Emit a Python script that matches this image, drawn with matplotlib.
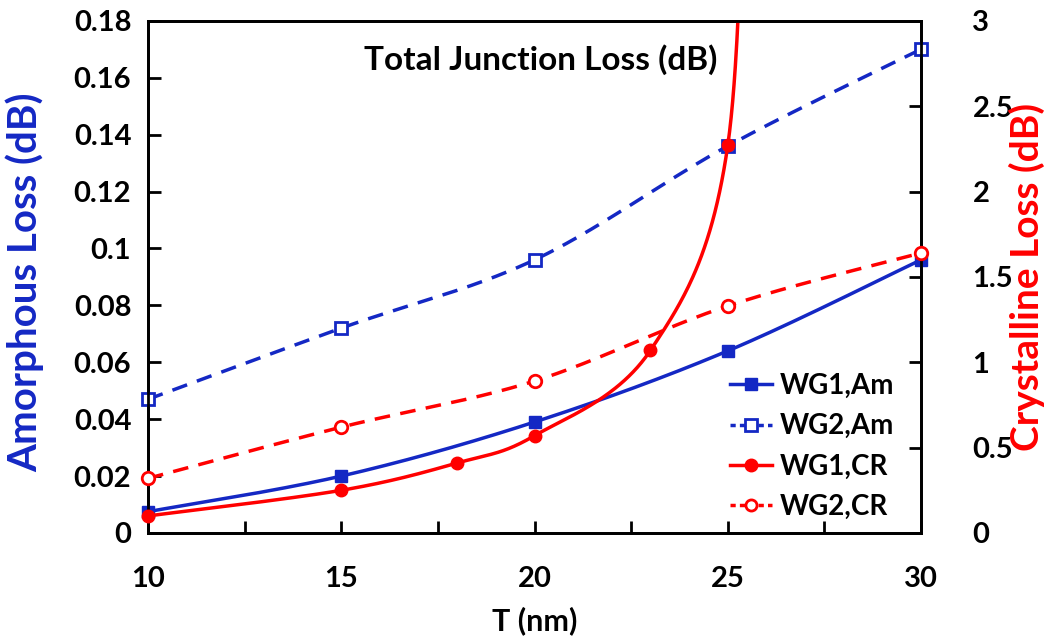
import numpy as np
import matplotlib
matplotlib.use("Agg")
import matplotlib.pyplot as plt

plt.rcParams['font.family'] = ['Lato', 'DejaVu Sans']
plt.rcParams['font.weight'] = 'bold'

# data
t_am = [10, 15, 20, 25, 30]
wg1_am = [0.0075, 0.020, 0.039, 0.064, 0.096]
wg2_am = [0.047, 0.072, 0.096, 0.136, 0.170]

t_cr1 = [10, 15, 18, 20, 23, 25, 25.5]
wg1_cr = [0.10, 0.25, 0.41, 0.57, 1.07, 2.27, 5.0]   # last point runs off the top
t_cr2 = [10, 15, 20, 25, 30]
wg2_cr = [0.32, 0.62, 0.89, 1.33, 1.64]

blue = '#1428c4'
red = '#ff0000'


def smooth(x, y, xs_scale, ys_scale, n=80):
    # excel-like smoothed line: bezier with catmull-rom control points,
    # worked out in (roughly) pixel units so the shape matches
    x = np.asarray(x, float) * xs_scale
    y = np.asarray(y, float) * ys_scale
    P = np.column_stack([x, y])
    P = np.vstack([P[0], P, P[-1]])
    s = np.linspace(0, 1, n)[:, None]
    out = []
    for i in range(1, len(P) - 2):
        b0 = P[i]
        b3 = P[i + 1]
        b1 = b0 + (P[i + 1] - P[i - 1]) / 6
        b2 = b3 - (P[i + 2] - P[i]) / 6
        out.append((1 - s) ** 3 * b0 + 3 * (1 - s) ** 2 * s * b1 + 3 * (1 - s) * s ** 2 * b2 + s ** 3 * b3)
    out = np.vstack(out)
    return out[:, 0] / xs_scale, out[:, 1] / ys_scale


fig = plt.figure(figsize=(10.46, 6.41), dpi=100)
ax = fig.add_axes([0.1415, 0.1685, 0.739, 0.799])
ax2 = ax.twinx()

xpx = 773 / 20.0
ypx_l = 512 / 0.18
ypx_r = 512 / 3.0

# amorphous on left axis
sx, sy = smooth(t_am, wg1_am, xpx, ypx_l)
ax.plot(sx, sy, color=blue, lw=2.5)
sx, sy = smooth(t_am, wg2_am, xpx, ypx_l)
ax.plot(sx, sy, color=blue, lw=2.5, ls=(0, (4.5, 3)))
ax.plot(t_am, wg1_am, 's', color=blue, ms=9, clip_on=False, zorder=5)
ax.plot(t_am, wg2_am, 's', color=blue, mfc='white', mew=2, ms=9, clip_on=False, zorder=5)

# crystalline on right axis
sx, sy = smooth(t_cr1, wg1_cr, xpx, ypx_r)
ax2.plot(sx, sy, color=red, lw=2.5)
sx, sy = smooth(t_cr2, wg2_cr, xpx, ypx_r)
ax2.plot(sx, sy, color=red, lw=2.5, ls=(0, (4.5, 3)))
ax2.plot(t_cr1[:-1], wg1_cr[:-1], 'o', color=red, ms=9, clip_on=False, zorder=5)
ax2.plot(t_cr2, wg2_cr, 'o', color=red, mfc='white', mew=2, ms=9, clip_on=False, zorder=5)

ax.set_xlim(10, 30)
ax.set_ylim(0, 0.18)
ax2.set_ylim(0, 3)
ax.set_xticks(np.arange(10, 31, 5))
ax.set_xticks(np.arange(10, 31, 2.5), minor=True)
ax.set_yticks(np.arange(0, 0.181, 0.02))
ax.set_yticklabels(['0', '0.02', '0.04', '0.06', '0.08', '0.1', '0.12', '0.14', '0.16', '0.18'])
ax2.set_yticks(np.arange(0, 3.01, 0.5))
ax2.set_yticklabels(['0', '0.5', '1', '1.5', '2', '2.5', '3'])

for a in (ax, ax2):
    for sp in a.spines.values():
        sp.set_linewidth(2)
ax.tick_params(axis='both', which='both', direction='in', width=2, length=9, labelsize=21)
ax.tick_params(axis='y', pad=12)
ax.tick_params(axis='x', which='both', pad=24)
ax2.tick_params(axis='y', which='both', direction='in', width=2, length=9, labelsize=21)
ax2.yaxis.set_tick_params(pad=37)
for lab in ax.get_xticklabels() + ax.get_yticklabels() + ax2.get_yticklabels():
    lab.set_fontweight('bold')

ax.set_xlabel('T (nm)', fontsize=22, fontweight='bold', labelpad=10)
ax.set_ylabel('Amorphous Loss (dB)', fontsize=29, fontweight='bold', color=blue)
ax.yaxis.set_label_coords(-0.134, 0.49)
ax2.set_ylabel('Crystalline Loss (dB)', fontsize=28, fontweight='bold', color=red)
ax2.yaxis.set_label_coords(1.114, 0.5)
ax.text(0.508, 0.924, 'Total Junction Loss (dB)', transform=ax.transAxes, ha='center', va='center',
        fontsize=24, fontweight='bold')

handles = [
    plt.Line2D([], [], color=blue, lw=2.5, marker='s', ms=9),
    plt.Line2D([], [], color=blue, lw=2.5, ls=(0, (1.5, 1.2)), marker='s', mfc='white', mew=2, ms=8),
    plt.Line2D([], [], color=red, lw=2.5, marker='o', ms=9),
    plt.Line2D([], [], color=red, lw=2.5, ls=(0, (1.5, 1.2)), marker='o', mfc='white', mew=2, ms=8),
]
ax2.legend(handles, ['WG1,Am', 'WG2,Am', 'WG1,CR', 'WG2,CR'], loc='lower left',
           bbox_to_anchor=(0.753, 0.025), frameon=False, prop={'size': 20, 'weight': 'bold'},
           handlelength=1.5, handletextpad=0.3, labelspacing=0.52, borderpad=0, borderaxespad=0)

fig.savefig('out.png', dpi=100)
